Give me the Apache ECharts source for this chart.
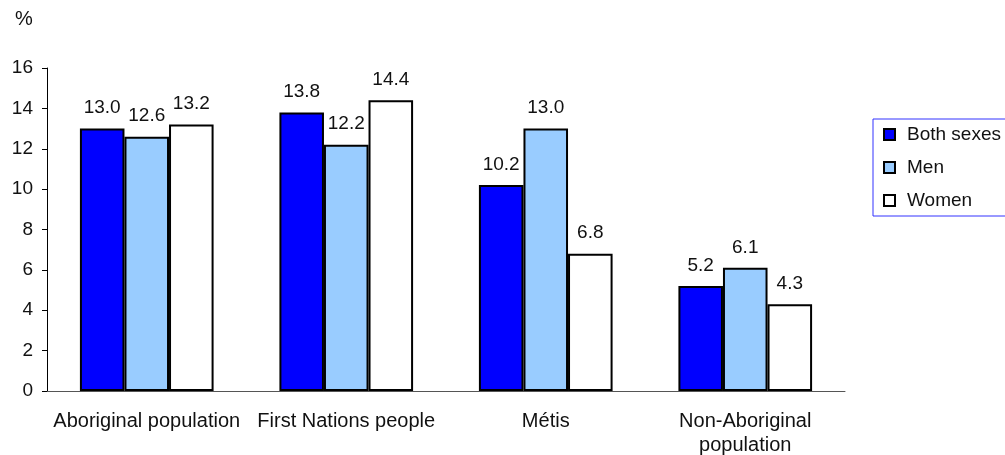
<!DOCTYPE html>
<html>
<head>
<meta charset="utf-8">
<script src="https://cdn.jsdelivr.net/npm/echarts@6/dist/echarts.min.js"></script>
<style>html,body{margin:0;padding:0;background:#fff;}#c{width:1005px;height:455px;}</style>
</head>
<body>
<div id="c"></div>
<script>
var categories = ['Aboriginal population', 'First Nations people', 'Métis', 'Non-Aboriginal\npopulation'];
var bothSexes = [13.0, 13.8, 10.2, 5.2];
var men = [12.6, 12.2, 13.0, 6.1];
var women = [13.2, 14.4, 6.8, 4.3];
var yTicks = [0, 2, 4, 6, 8, 10, 12, 14, 16];

var font = 'Liberation Sans, Arial, sans-serif';
var fs = 19;
function mk(name, data, color) {
  return {
    name: name, type: 'bar', data: data, barGap: '0%', barCategoryGap: '33%',
    itemStyle: { color: color, borderColor: '#000', borderWidth: 2 },
    label: { show: true, position: 'top', distance: 11, color: '#111', fontSize: fs, fontFamily: font,
      formatter: function (p) { return p.value.toFixed(1); } }
  };
}
var chart = echarts.init(document.getElementById('c'));
chart.setOption({
  animation: false,
  textStyle: { fontFamily: font },
  grid: { left: 47, right: 160, top: 68, bottom: 64, containLabel: false, outerBoundsMode: 'none' },
  graphic: [{ type: 'text', left: 15, top: 9, style: { text: '%', fontSize: 20, fontFamily: font, fill: '#111' } }],
  legend: {
    orient: 'vertical', left: 873, top: 119,
    padding: [6, 30, 6, 10], itemGap: 14, itemWidth: 11, itemHeight: 11,
    borderColor: '#3333ff', borderWidth: 1, icon: 'rect',
    textStyle: { fontSize: 19, color: '#111', fontFamily: font, padding: [0, 0, 0, 7], lineHeight: 19 },
    data: ['Both sexes', 'Men', 'Women']
  },
  xAxis: {
    type: 'category', data: categories,
    axisLine: { lineStyle: { color: '#555', width: 1 } },
    axisTick: { show: false },
    axisLabel: { color: '#111', fontSize: 20, fontFamily: font, margin: 18, lineHeight: 24, interval: 0 }
  },
  yAxis: {
    type: 'value', min: yTicks[0], max: yTicks[yTicks.length - 1], interval: 2,
    splitLine: { show: false },
    axisLine: { show: true, lineStyle: { color: '#000', width: 1 } },
    axisTick: { show: true, length: 5, lineStyle: { color: '#000' } },
    axisLabel: { color: '#111', fontSize: fs, fontFamily: font, margin: 14 }
  },
  series: [
    mk('Both sexes', bothSexes, '#0000ff'),
    mk('Men', men, '#99ccff'),
    mk('Women', women, '#ffffff')
  ]
});
</script>
</body>
</html>
